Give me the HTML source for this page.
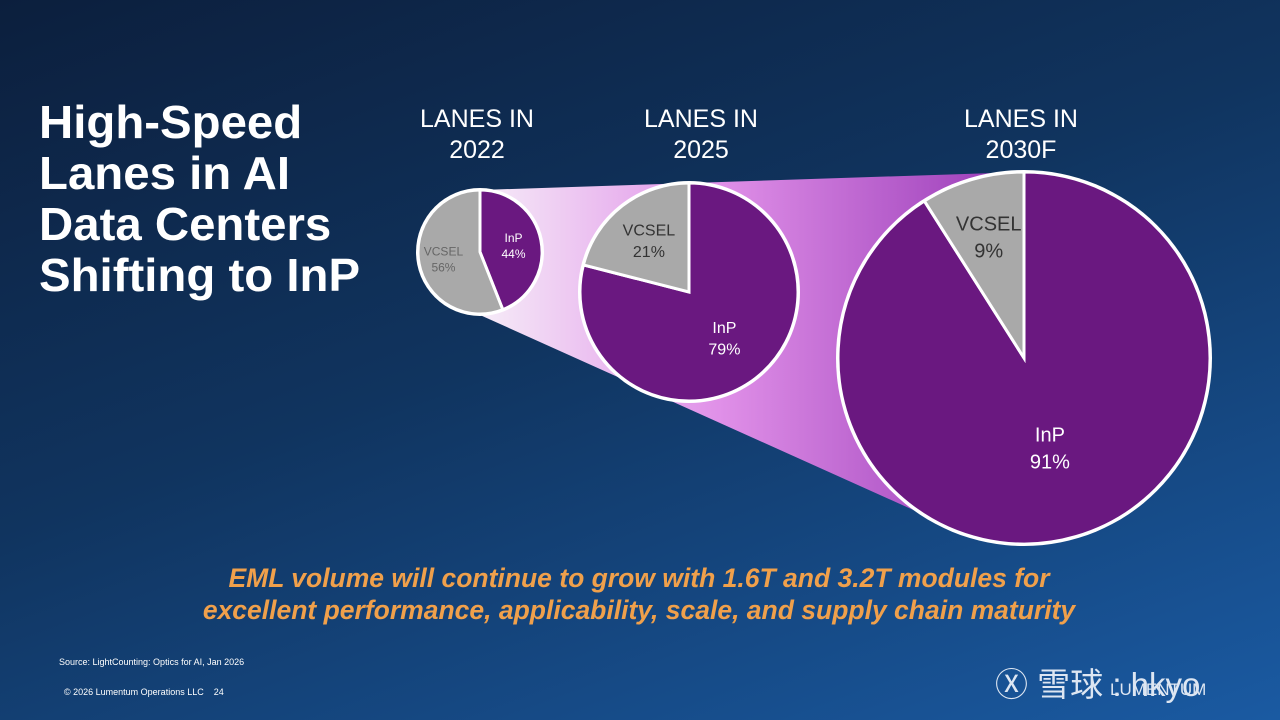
<!DOCTYPE html>
<html><head><meta charset="utf-8"><style>
body{margin:0;width:1280px;height:720px;overflow:hidden;font-family:"Liberation Sans",sans-serif;}
#bg{position:absolute;left:0;top:0;width:1280px;height:720px;background:linear-gradient(160deg,#0c1f3d 0%,#10345f 45%,#1a5aa2 100%);}
.t{position:absolute;color:#fff;}
</style></head><body>
<div id="bg"></div>
<div class="t" style="left:39px;top:97px;font-size:46px;font-weight:bold;line-height:51px;transform:scaleX(1.03);transform-origin:left top;">High-Speed<br>Lanes in AI<br>Data Centers<br>Shifting to InP</div>
<svg width="1280" height="720" style="position:absolute;left:0;top:0">
<defs><linearGradient id="fg" x1="480" y1="0" x2="1010" y2="0" gradientUnits="userSpaceOnUse">
<stop offset="0" stop-color="#f6ecf8"/><stop offset="0.45" stop-color="#e090e8"/><stop offset="1" stop-color="#9a3cb8"/></linearGradient></defs>
<polygon points="480,190 1024,172 940,522 480,315" fill="url(#fg)"/>
<g id="pies"></g>
</svg>
<div class="t" style="left:0;width:1278px;top:562px;text-align:center;color:#f0a04b;font-size:26.5px;font-weight:bold;font-style:italic;line-height:32px;">EML volume will continue to grow with 1.6T and 3.2T modules for<br>excellent performance, applicability, scale, and supply chain maturity</div>
<div class="t" style="left:59px;top:657px;font-size:9px;">Source: LightCounting: Optics for AI, Jan 2026</div>
<div class="t" style="left:64px;top:687px;font-size:9px;">© 2026 Lumentum Operations LLC &nbsp;&nbsp; 24</div>
<div class="t" style="left:995px;top:658px;font-size:33px;color:#dde6f2;font-family:'Liberation Sans','Noto Sans CJK SC',sans-serif;">Ⓧ 雪球 : hkyo</div>
<div class="t" style="left:1110px;top:680px;font-size:17px;color:#dde6f2;">LUMENTUM</div>
<script>
const years=["LANES IN<br>2022","LANES IN<br>2025","LANES IN<br>2030F"];
const inpShare=[44,79,91];
const vcselShare=[56,21,9];
const cx=[480,689,1024],cy=[252,292,358],rr=[62,109,186];
const titleX=[477,701,1021];
const fs=[12,16,20];
const inpR=[0.55,0.53,0.5],vcR=[0.6,0.6,0.68];
const g=document.getElementById('pies');const NS='http://www.w3.org/2000/svg';
function pt(x,y,r,a){const t=a*Math.PI/180;return [x+r*Math.sin(t),y-r*Math.cos(t)];}
function arc(x,y,r,a0,a1){const p0=pt(x,y,r,a0),p1=pt(x,y,r,a1);return `M${x},${y}L${p0[0]},${p0[1]}A${r},${r} 0 ${a1-a0>180?1:0} 1 ${p1[0]},${p1[1]}Z`;}
function txt(x,y,s,size,col,name){const t=document.createElementNS(NS,'text');t.setAttribute('x',x);t.setAttribute('y',y);t.setAttribute('text-anchor','middle');t.setAttribute('font-size',size);t.setAttribute('fill',col);t.setAttribute('font-family','Liberation Sans, sans-serif');t.textContent=s;


g.appendChild(t);}
for(let i=0;i<3;i++){
 const x=cx[i],y=cy[i],r=rr[i];const a=inpShare[i]/(inpShare[i]+vcselShare[i])*360;
 const c=document.createElementNS(NS,'circle');c.setAttribute('cx',x);c.setAttribute('cy',y);c.setAttribute('r',r+2);c.setAttribute('fill','#fff');
 
 
 g.appendChild(c);
 const p1=document.createElementNS(NS,'path');p1.setAttribute('d',arc(x,y,r,0,a));p1.setAttribute('fill','#6a1880');p1.setAttribute('stroke','#fff');p1.setAttribute('stroke-width','3');
 
 
 g.appendChild(p1);
 const p2=document.createElementNS(NS,'path');p2.setAttribute('d',arc(x,y,r,a,360));p2.setAttribute('fill','#a9a9a9');p2.setAttribute('stroke','#fff');p2.setAttribute('stroke-width','3');
 
 
 g.appendChild(p2);
 const mi=pt(x,y,r*inpR[i],a/2),mv=pt(x,y,r*vcR[i],(a+360)/2);
 const f=fs[i];
 txt(mi[0],mi[1]-0.3*f,'InP',f,'#fff','inp-label');txt(mi[0],mi[1]+1.05*f,inpShare[i]+'%',f,'#fff','inp-value');
 txt(mv[0],mv[1]-0.3*f,'VCSEL',f,i==0?'#666':'#333','vcsel-label');txt(mv[0],mv[1]+1.05*f,vcselShare[i]+'%',f,i==0?'#666':'#333','vcsel-value');
 const d=document.createElement('div');d.className='t';d.innerHTML=years[i];
 
 
 d.style.cssText=`left:${titleX[i]-80}px;width:160px;top:104px;text-align:center;font-size:25px;line-height:31px;`;
 document.body.appendChild(d);
}
</script>
</body></html>
